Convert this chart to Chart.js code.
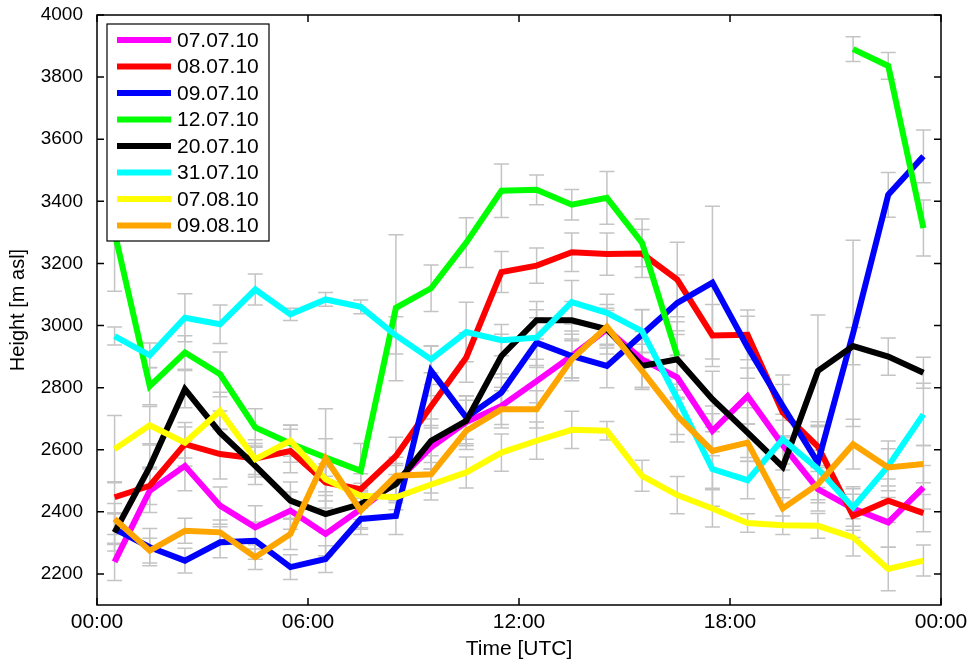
<!DOCTYPE html>
<html>
<head>
<meta charset="utf-8">
<script src="https://cdn.jsdelivr.net/npm/chart.js@4.4.0/dist/chart.umd.min.js"></script>
<style>
  html, body { margin: 0; padding: 0; background: #fff; }
  #wrap { width: 971px; height: 664px; }
</style>
</head>
<body>
<div id="wrap"><canvas id="chart" width="971" height="664"></canvas></div>
<script>
// hour of day (UTC) of every profile
const hours = [0.5, 1.5, 2.5, 3.5, 4.5, 5.5, 6.5, 7.5, 8.5, 9.5, 10.5, 11.5,
               12.5, 13.5, 14.5, 15.5, 16.5, 17.5, 18.5, 19.5, 20.5, 21.5, 22.5, 23.5];

const xTicks = [0, 6, 12, 18, 24];
const xTickLabels = ['00:00', '06:00', '12:00', '18:00', '00:00'];
const yTicks = [2200, 2400, 2600, 2800, 3000, 3200, 3400, 3600, 3800, 4000];

const days = ['07.07.10', '08.07.10', '09.07.10', '12.07.10', '20.07.10', '31.07.10', '07.08.10', '09.08.10'];
const colors = ['#ff00ff', '#ff0000', '#0000ff', '#00ff00', '#000000', '#00ffff', '#ffff00', '#ffa500'];

// heights [m asl]
const h070710 = [2239, 2468, 2548, 2420, 2350, 2404, 2329, 2409, 2496, 2608, 2689, 2741, 2821, 2902, 2988, 2891, 2833, 2661, 2773, 2615, 2473, 2411, 2366, 2479];
const h080710 = [2447, 2484, 2618, 2586, 2572, 2596, 2495, 2473, 2580, 2740, 2897, 3172, 3193, 3236, 3230, 3232, 3148, 2968, 2970, 2720, 2610, 2387, 2436, 2396];
const h090710 = [2345, 2286, 2243, 2302, 2307, 2222, 2248, 2377, 2387, 2854, 2704, 2784, 2945, 2902, 2870, 2971, 3073, 3138, 2930, 2741, 2559, 2975, 3421, 3545];
const h120710 = [3300, 2805, 2913, 2843, 2672, 2620, 2575, 2532, 3057, 3120, 3267, 3434, 3437, 3389, 3411, 3266, 2902, null, null, null, null, 3890, 3836, 3314];
const h200710 = [2334, 2545, 2795, 2655, 2548, 2436, 2393, 2425, 2489, 2629, 2693, 2902, 3017, 3017, 2988, 2870, 2891, 2763, 2655, 2545, 2854, 2934, 2900, 2848];
const h310710 = [2966, 2904, 3025, 3004, 3116, 3036, 3084, 3060, 2968, 2891, 2979, 2953, 2961, 3075, 3041, 2982, 2765, 2538, 2502, 2634, 2538, 2414, 2548, 2714];
const h070810 = [2602, 2679, 2623, 2725, 2570, 2629, 2505, 2452, 2447, 2488, 2527, 2591, 2629, 2664, 2661, 2516, 2454, 2411, 2364, 2357, 2355, 2318, 2216, 2243];
const h090810 = [2377, 2275, 2339, 2334, 2254, 2329, 2572, 2404, 2516, 2521, 2661, 2730, 2730, 2891, 2996, 2854, 2709, 2596, 2623, 2411, 2489, 2618, 2543, 2554];

// half width of the error bars [m]
const e070710 = [60, 70, 80, 60, 70, 60, 70, 60, 60, 70, 70, 60, 70, 80, 80, 90, 70, 80, 90, 80, 70, 70, 80, 70];
const e080710 = [50, 60, 70, 80, 60, 70, 60, 50, 60, 70, 80, 66, 57, 62, 68, 77, 120, 100, 80, 90, 80, 70, 70, 60];
const e090710 = [50, 60, 40, 50, 60, 40, 43, 50, 60, 80, 70, 60, 80, 70, 70, 80, 90, 246, 100, 100, 120, 300, 72, 85];
const e120710 = [190, 60, 54, 72, 60, 60, 60, 88, 235, 75, 80, 86, 48, 49, 85, 77, 110, null, null, null, null, 40, 43, 90];
const e200710 = [60, 70, 60, 70, 60, 60, 60, 50, 60, 70, 80, 70, 60, 60, 60, 70, 80, 90, 80, 100, 180, 60, 60, 50];
const e310710 = [29, 40, 77, 62, 50, 20, 22, 22, 60, 43, 96, 50, 90, 70, 60, 70, 140, 120, 60, 80, 60, 60, 80, 100];
const e070810 = [108, 60, 50, 60, 50, 50, 40, 40, 40, 50, 50, 60, 60, 60, 30, 50, 60, 60, 30, 30, 40, 60, 70, 50];
const e090810 = [50, 40, 40, 40, 40, 50, 160, 60, 60, 60, 60, 60, 60, 60, 60, 60, 60, 120, 60, 60, 60, 80, 60, 60];

const heights = [h070710, h080710, h090710, h120710, h200710, h310710, h070810, h090810];
const errors = [e070710, e080710, e090710, e120710, e200710, e310710, e070810, e090810];

const FONT = '"Liberation Sans", Arial, Helvetica, sans-serif';

const errorBars = {
    id: 'errorBars',
    beforeDatasetsDraw(chart) {
        const { ctx, chartArea, scales: { x, y } } = chart;
        ctx.save();
        ctx.beginPath();
        ctx.rect(chartArea.left, chartArea.top, chartArea.right - chartArea.left, chartArea.bottom - chartArea.top);
        ctx.clip();
        ctx.strokeStyle = '#c4c4c4';
        ctx.lineWidth = 1.5;
        heights.forEach((vals, i) => {
            vals.forEach((v, j) => {
                const e = errors[i][j];
                if (v === null || e === null) return;
                const px = x.getPixelForValue(hours[j]);
                const top = y.getPixelForValue(v + e);
                const bot = y.getPixelForValue(v - e);
                ctx.beginPath();
                ctx.moveTo(px, top); ctx.lineTo(px, bot);
                ctx.moveTo(px - 7.5, top); ctx.lineTo(px + 7.5, top);
                ctx.moveTo(px - 7.5, bot); ctx.lineTo(px + 7.5, bot);
                ctx.stroke();
            });
        });
        ctx.restore();
    }
};

// box legend in the upper left corner
const boxLegend = {
    id: 'boxLegend',
    afterDatasetsDraw(chart) {
        const { ctx, chartArea } = chart;
        const left = chartArea.left + 10, top = chartArea.top + 9;
        ctx.save();
        ctx.fillStyle = '#fff';
        ctx.fillRect(left, top, 162, 217);
        ctx.strokeStyle = '#000';
        ctx.lineWidth = 1.2;
        ctx.strokeRect(left, top, 162, 217);
        ctx.font = '21px ' + FONT;
        ctx.textBaseline = 'middle';
        days.forEach((d, i) => {
            const yy = top + 16 + i * 26.5;
            ctx.strokeStyle = colors[i];
            ctx.lineWidth = 6;
            ctx.beginPath();
            ctx.moveTo(left + 10, yy); ctx.lineTo(left + 64, yy);
            ctx.stroke();
            ctx.fillStyle = '#000';
            ctx.fillText(d, left + 70, yy + 1);
        });
        ctx.restore();
    }
};

// matlab style box with inward ticks
const frame = {
    id: 'frame',
    afterDraw(chart) {
        const { ctx, chartArea: a, scales: { x, y } } = chart;
        ctx.save();
        ctx.strokeStyle = '#000';
        ctx.lineWidth = 1.5;
        ctx.strokeRect(a.left, a.top, a.right - a.left, a.bottom - a.top);
        ctx.beginPath();
        xTicks.forEach(t => {
            const px = x.getPixelForValue(t);
            ctx.moveTo(px, a.bottom); ctx.lineTo(px, a.bottom - 7);
            ctx.moveTo(px, a.top); ctx.lineTo(px, a.top + 7);
        });
        yTicks.forEach(t => {
            const py = y.getPixelForValue(t);
            ctx.moveTo(a.left, py); ctx.lineTo(a.left + 7, py);
            ctx.moveTo(a.right, py); ctx.lineTo(a.right - 7, py);
        });
        ctx.stroke();
        ctx.restore();
    }
};

const datasets = days.map((d, i) => ({
    label: d,
    data: hours.map((h, j) => ({ x: h, y: heights[i][j] })),
    borderColor: colors[i],
    backgroundColor: colors[i],
    borderWidth: 6,
    pointRadius: 0,
    tension: 0,
    spanGaps: false,
    borderJoinStyle: 'miter',
    order: days.length - 1 - i
}));

new Chart(document.getElementById('chart'), {
    type: 'line',
    data: { datasets },
    options: {
        responsive: false,
        animation: false,
        devicePixelRatio: 1,
        layout: { padding: { left: 0, right: 30, top: 15, bottom: 0 } },
        plugins: {
            legend: { display: false },
            tooltip: { enabled: false }
        },
        scales: {
            x: {
                type: 'linear',
                min: 0, max: 24,
                afterBuildTicks: s => { s.ticks = xTicks.map(v => ({ value: v })); },
                afterFit: s => { s.height = 59; s.paddingLeft = 0; s.paddingRight = 0; },
                grid: { display: false, drawTicks: false },
                border: { display: false },
                ticks: {
                    color: '#000',
                    font: { family: FONT, size: 21 },
                    padding: 5,
                    maxRotation: 0,
                    callback: v => xTickLabels[xTicks.indexOf(v)]
                },
                title: {
                    display: true, text: 'Time [UTC]', color: '#000',
                    font: { family: FONT, size: 21 },
                    padding: { top: 0, bottom: 2 }
                }
            },
            y: {
                min: 2100, max: 4000,
                afterBuildTicks: s => { s.ticks = yTicks.map(v => ({ value: v })); },
                afterFit: s => { s.width = 97; s.paddingTop = 0; s.paddingBottom = 0; },
                grid: { display: false, drawTicks: false },
                border: { display: false },
                ticks: {
                    color: '#000',
                    font: { family: FONT, size: 19 },
                    padding: 14,
                    callback: v => String(v)
                },
                title: {
                    display: true, text: 'Height [m asl]', color: '#000',
                    font: { family: FONT, size: 20 },
                    padding: { top: 6, bottom: 0 }
                }
            }
        }
    },
    plugins: [errorBars, boxLegend, frame]
});
</script>
</body>
</html>
